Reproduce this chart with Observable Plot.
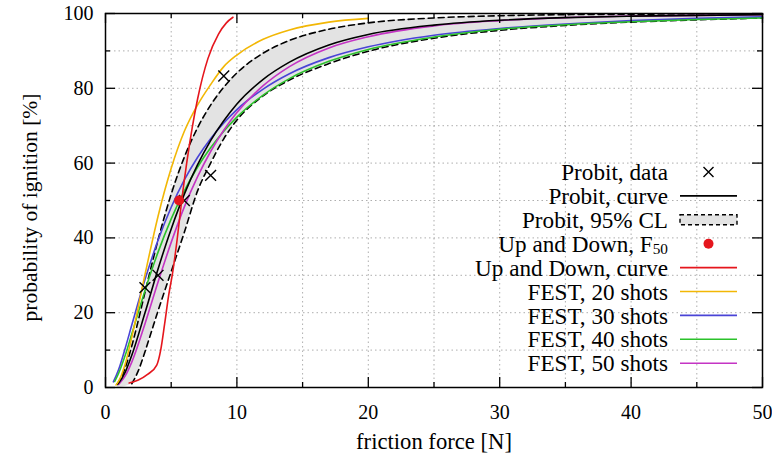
<!DOCTYPE html>
<html><head><meta charset="utf-8">
<script src="https://cdn.jsdelivr.net/npm/d3@7"></script>
<script src="https://cdn.jsdelivr.net/npm/@observablehq/plot@0.6"></script>
<style>
body{margin:0;background:#fff;}
#wrap{width:772px;height:461px;overflow:hidden;}
</style></head><body><div id="wrap"></div>
<script>
// ---- data ----
const probitDataX = [3, 4, 6, 8, 9];
const probitDataY = [26.7, 30, 50, 56.7, 83.3];

const f50X = [5.6];
const f50Y = [50];

const probitCurveX = [0.9, 1, 1.5, 2, 3, 4, 5, 6, 7, 8, 9, 10, 12, 14, 17, 20, 25, 30, 35, 40, 50];
const probitCurveY = [0.8, 1.2, 4.1, 8.6, 19.9, 31.7, 42.4, 51.7, 59.5, 66.0, 71.3, 75.8, 82.4, 87.0, 91.6, 94.4, 96.9, 98.2, 98.9, 99.3, 99.7];

const bandX     = [0.9, 1, 1.5, 2, 2.5, 3, 3.5, 4, 5, 6, 7, 8, 9, 10, 12, 14, 17, 20, 25, 30, 35, 40, 45, 50];
const bandUpper = [1.0, 1.5, 5.3, 11.1, 18.0, 25.4, 32.6, 39.5, 51.7, 61.6, 69.4, 75.5, 80.3, 84.1, 89.4, 92.8, 95.8, 97.5, 98.8, 99.4, 99.7, 99.8, 99.9, 99.9];
const bandLower = [0, 0, 0.3, 1.0, 4.5, 9.5, 15, 20.5, 31, 41.5, 52.5, 60, 66.5, 71.5, 78, 82.2, 86.6, 89.9, 93.4, 95.5, 96.8, 97.7, 98.3, 98.8];

const udCurveX = [1.8, 2.5, 3.2, 3.9, 4.2, 4.5, 4.8, 5.1, 5.45, 5.8, 6.2, 6.6, 7.0, 7.8, 8.6, 9.2, 9.7];
const udCurveY = [1.2, 2.0, 3.5, 6.0, 10.0, 17.0, 24.5, 30.5, 39.5, 50.0, 60.5, 69.5, 77.0, 88.0, 94.5, 97.5, 99.0];

const fest20X = [0.8, 1, 1.5, 2, 3, 4, 5, 6, 7, 8, 9, 10, 12, 14, 17, 20];
const fest20Y = [0.7, 1.7, 6.3, 13.4, 30.1, 45.8, 58.6, 68.5, 75.5, 81.0, 85.8, 88.9, 93.1, 95.6, 97.7, 98.7];

const fest30X = [0.6, 1, 1.5, 2, 3, 4, 5, 6, 7, 8, 9, 10, 12, 14, 17, 20, 25, 30, 35, 40, 45, 50];
const fest30Y = [1.5, 4.8, 10.5, 16.7, 28.8, 39.4, 48.2, 55.5, 61.5, 66.5, 70.7, 74.3, 79.8, 83.9, 88.2, 91.1, 94.2, 96.0, 97.2, 98.1, 98.7, 99.1];

const fest40X = [0.7, 1, 1.5, 2, 3, 4, 5, 6, 7, 8, 9, 10, 12, 14, 17, 20, 25, 30, 35, 40, 45, 50];
const fest40Y = [1.6, 3.8, 8.6, 14.3, 25.9, 36.2, 45.1, 52.6, 58.9, 64.1, 68.5, 72.3, 78.2, 82.6, 87.2, 90.4, 93.7, 95.8, 97.0, 97.8, 98.4, 98.8];

const fest50X = [1, 1.5, 2, 3, 4, 5, 6, 7, 8, 9, 10, 12, 14, 17, 20, 25, 30, 35, 40, 50];
const fest50Y = [0.8, 3.1, 6.8, 17.0, 28.2, 38.8, 48.3, 56.3, 63.1, 68.8, 73.5, 80.7, 85.8, 90.8, 93.8, 96.7, 98.1, 98.9, 99.3, 99.7];

const xMajorTicks = [0, 10, 20, 30, 40, 50];
const xMinorTicks = [5, 15, 25, 35, 45];
const yMajorTicks = [0, 20, 40, 60, 80, 100];
const yMinorTicks = [10, 30, 50, 70, 90];
const xGrid = [5, 10, 15, 20, 25, 30, 35, 40, 45];
const yGrid = [10, 20, 30, 40, 50, 60, 70, 80, 90];

const xLabel = "friction force [N]";
const yLabel = "probability of ignition [%]";

const legendLabels = ["Probit, data", "Probit, curve", "Probit, 95% CL", "Up and Down, F", "Up and Down, curve",
  "FEST, 20 shots", "FEST, 30 shots", "FEST, 40 shots", "FEST, 50 shots"];

// ---- colours ----
const C = {red: "#e5161d", yellow: "#f2b705", blue: "#4a44d6", green: "#2bc22b", magenta: "#c434c4", band: "#e3e3e3"};

// ---- build tables ----
const zip = (xs, ys) => xs.map((x, i) => ({x, y: ys[i]}));
const probitData = zip(probitDataX, probitDataY);
const f50 = zip(f50X, f50Y);
const band = bandX.map((x, i) => ({x, hi: bandUpper[i], lo: bandLower[i]}));
const bandLo = band.filter(d => d.lo >= 1);

const W = 772, H = 461, mT = 13, mB = 74, mL = 105, mR = 10;
const plotH = H - mT - mB, plotW = W - mL - mR;
const font = "Liberation Serif, Times New Roman, DejaVu Serif, serif";
const curve = "monotone-x";
const lw = 1.6;

const chart = Plot.plot({
  width: W, height: H,
  marginTop: mT, marginBottom: mB, marginLeft: mL, marginRight: mR,
  style: {fontFamily: font, fontSize: "20px", background: "white", color: "black", overflow: "visible"},
  x: {domain: [0, 50]},
  y: {domain: [0, 100]},
  marks: [
    Plot.gridX(xGrid, {stroke: "#9a9a9a", strokeOpacity: 0.8, strokeDasharray: "1.5,3", strokeWidth: 1}),
    Plot.gridY(yGrid, {stroke: "#9a9a9a", strokeOpacity: 0.8, strokeDasharray: "1.5,3", strokeWidth: 1}),
    Plot.areaY(band, {x: "x", y1: "lo", y2: "hi", fill: C.band, curve}),
    Plot.line(band, {x: "x", y: "hi", stroke: "black", strokeWidth: lw, strokeDasharray: "6,4", curve}),
    Plot.line(bandLo, {x: "x", y: "lo", stroke: "black", strokeWidth: lw, strokeDasharray: "6,4", curve}),
    Plot.line(zip(fest30X, fest30Y), {x: "x", y: "y", stroke: C.blue, strokeWidth: lw, curve}),
    Plot.line(zip(fest40X, fest40Y), {x: "x", y: "y", stroke: C.green, strokeWidth: lw, curve}),
    Plot.line(zip(fest50X, fest50Y), {x: "x", y: "y", stroke: C.magenta, strokeWidth: lw, curve}),
    Plot.line(zip(probitCurveX, probitCurveY), {x: "x", y: "y", stroke: "black", strokeWidth: lw, curve}),
    Plot.line(zip(fest20X, fest20Y), {x: "x", y: "y", stroke: C.yellow, strokeWidth: lw, curve}),
    Plot.line(zip(udCurveX, udCurveY), {x: "x", y: "y", stroke: C.red, strokeWidth: lw, curve}),
    Plot.dot(probitData, {x: "x", y: "y", symbol: "times", r: 5, stroke: "black", strokeWidth: 1.4}),
    Plot.dot(f50, {x: "x", y: "y", r: 5, fill: C.red, stroke: null}),
    // inward ticks on all four sides
    Plot.tickX(xMajorTicks, {x: d => d, insetTop: plotH - 10, stroke: "black", strokeWidth: 1.3}),
    Plot.tickX(xMajorTicks, {x: d => d, insetBottom: plotH - 10, stroke: "black", strokeWidth: 1.3}),
    Plot.tickX(xMinorTicks, {x: d => d, insetTop: plotH - 5, stroke: "black", strokeWidth: 1.3}),
    Plot.tickX(xMinorTicks, {x: d => d, insetBottom: plotH - 5, stroke: "black", strokeWidth: 1.3}),
    Plot.tickY(yMajorTicks, {y: d => d, insetRight: plotW - 10, stroke: "black", strokeWidth: 1.3}),
    Plot.tickY(yMajorTicks, {y: d => d, insetLeft: plotW - 10, stroke: "black", strokeWidth: 1.3}),
    Plot.tickY(yMinorTicks, {y: d => d, insetRight: plotW - 5, stroke: "black", strokeWidth: 1.3}),
    Plot.tickY(yMinorTicks, {y: d => d, insetLeft: plotW - 5, stroke: "black", strokeWidth: 1.3}),
    Plot.frame({stroke: "black", strokeWidth: 1.5}),
    Plot.axisX({ticks: xMajorTicks, tickSize: 0, tickPadding: 17, label: null}),
    Plot.axisY({ticks: yMajorTicks, tickSize: 0, tickPadding: 12, label: null}),
    Plot.text([xLabel], {frameAnchor: "bottom", dy: 54, text: d => d, lineAnchor: "middle", textAnchor: "middle"}),
    Plot.text([yLabel], {frameAnchor: "left", dx: -75, dy: 7, rotate: -90, text: d => d, lineAnchor: "middle", textAnchor: "middle"})
  ]
});

// ---- legend (gnuplot style, inside the frame, lower right) ----
const svg = d3.select(chart);
const lg = svg.append("g").attr("font-family", font).attr("font-size", 20);
const rowY0 = 172, rowStep = 23.9, textRight = 668, s0 = 680, s1 = 737, sm = 708.5;
const legendTexts = [];
const subs = [];
legendLabels.forEach((lab, i) => {
  const y = rowY0 + i * rowStep;
  const t = lg.append("text").attr("x", textRight).attr("y", y).attr("dy", "0.35em").attr("text-anchor", "end").attr("fill", "black");
  if (i === 3) {
    t.append("tspan").text(lab);
    subs.push(t.append("tspan").attr("font-size", 13).attr("dy", "0.15em").text("50").node());
  } else t.text(lab);
  legendTexts.push(t.node());
  const g = lg.append("g");
  if (i === 0) {
    const r = 5;
    g.append("path").attr("d", `M${sm - r},${y - r}L${sm + r},${y + r}M${sm - r},${y + r}L${sm + r},${y - r}`).attr("stroke", "black").attr("stroke-width", 1.4);
  } else if (i === 1) {
    g.append("line").attr("x1", s0).attr("x2", s1).attr("y1", y).attr("y2", y).attr("stroke", "black").attr("stroke-width", lw);
  } else if (i === 2) {
    g.append("rect").attr("x", s0).attr("y", y - 5).attr("width", s1 - s0).attr("height", 10).attr("fill", C.band).attr("stroke", "black").attr("stroke-width", 1.4).attr("stroke-dasharray", "4,3");
  } else if (i === 3) {
    g.append("circle").attr("cx", sm).attr("cy", y).attr("r", 5).attr("fill", C.red);
  } else {
    const col = [C.red, C.yellow, C.blue, C.green, C.magenta][i - 4];
    g.append("line").attr("x1", s0).attr("x2", s1).attr("y1", y).attr("y2", y).attr("stroke", col).attr("stroke-width", lw);
  }
});

document.getElementById("wrap").appendChild(chart);

// ---- fit text sizes to the widths seen in the reference (font metrics may differ) ----
const allText = Array.from(chart.querySelectorAll("text"));
function setFs(n, fs) { n.setAttribute("font-size", fs); n.style.fontSize = fs + "px"; }
function fitTo(n, target, cur, maxFs) {
  const len = n.getComputedTextLength();
  return len ? Math.min(maxFs, cur * target / len) : cur;
}
const ylab = allText.find(n => n.textContent === yLabel);
if (ylab) setFs(ylab, fitTo(ylab, 228, 20, 24));
const xlab = allText.find(n => n.textContent === xLabel);
if (xlab) setFs(xlab, fitTo(xlab, 156, 20, 24));
const lfs = fitTo(legendTexts[4], 193, 20, 24);
legendTexts.forEach(n => setFs(n, lfs));
subs.forEach(n => setFs(n, lfs * 0.66));
</script>
</body></html>
